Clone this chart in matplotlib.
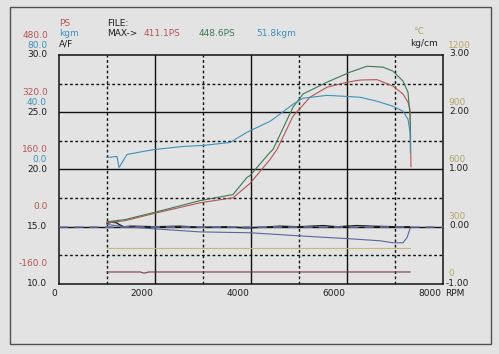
import matplotlib
matplotlib.use("Agg")
import matplotlib.pyplot as plt
import matplotlib.transforms as mtransforms
from matplotlib.patches import Rectangle

# ---------------- data ----------------
rpm_ps_red = [1000, 1375, 2042, 2938, 3625, 3979, 4396, 4542, 4875, 5229, 5583, 6000, 6271, 6625, 6958, 7167, 7271, 7313, 7333]
ps_red = [11, 17, 39, 67, 81, 121, 188, 216, 309, 362, 390, 404, 410, 411.1, 393, 371, 348, 328, 168]

rpm_ps_green = [1000, 1375, 2042, 2938, 3625, 3917, 3979, 4396, 4458, 4875, 5083, 5583, 6063, 6417, 6750, 6958, 7167, 7271, 7313, 7325]
ps_green = [14, 20, 42, 73, 90, 138, 143, 208, 216, 334, 371, 404, 432, 448.6, 446, 435, 407, 376, 309, 250]

rpm_torque = [1000, 1208, 1250, 1417, 1750, 2000, 2583, 3000, 3563, 3917, 4396, 4458, 4875, 5083, 5583, 5917, 6271, 6625, 6958, 7167, 7271, 7313, 7320]
torque_kgm = [8.4, 9.1, 1.4, 10.5, 12.6, 14.0, 16.1, 16.8, 18.9, 26.0, 33.7, 35.1, 45.6, 49.8, 51.8, 51.2, 50.5, 47.7, 44.2, 40.7, 35.1, 26.0, 12.0]

rpm_af = [1000, 1100, 1200, 1250, 1350, 1500, 2000, 2500, 3000, 3500, 3900, 4200, 4600, 5000, 5500, 5800, 6200, 6500, 7000, 7300]
af = [15.3, 15.4, 15.35, 15.2, 15.0, 15.05, 15.0, 15.05, 14.95, 15.0, 14.9, 14.95, 15.05, 15.0, 15.1, 15.0, 15.1, 15.05, 15.0, 15.0]

rpm_boost = [1000, 1375, 1958, 2938, 3979, 5021, 6063, 6688, 6958, 7167, 7250, 7313]
boost_kgcm = [0.04, 0.0, -0.035, -0.09, -0.105, -0.16, -0.21, -0.245, -0.28, -0.28, -0.19, -0.035]

rpm_temp = [1000, 7313]
temp_c = [190, 190]

rpm_temp2 = [1000, 1700, 1750, 1810, 1860, 7313]
temp2_c = [63, 63, 58, 58, 63, 63]

boost_ref = 0.0

x_ticks = [0, 2000, 4000, 6000, 8000]
af_ticks = [10.0, 15.0, 20.0, 25.0, 30.0]
ps_ticks = [-160.0, 0.0, 160.0, 320.0, 480.0]
kgm_ticks = [0.0, 40.0, 80.0]
kgcm_ticks = [-1.00, 0.00, 1.00, 2.00, 3.00]
temp_ticks = [0, 300, 600, 900, 1200]

# ---------------- styling ----------------
BG = '#e3e3e3'
C_RED = '#b55555'
C_GREEN = '#3d7a52'
C_BLUE = '#3d92b8'
C_BLACK = '#1e1e1e'
C_SLATE = '#56669a'
C_YEL = '#c9b877'
C_YEL_TXT = '#b3a56a'
C_DRED = '#7a3848'
C_DASH = '#6878a8'

W, H = 499, 354
fig = plt.figure(figsize=(W / 100, H / 100), dpi=100, facecolor=BG)

# outer frame
fig.patches.append(Rectangle((10 / W, 1 - 344 / H), 481 / W, 337 / H, transform=fig.transFigure,
                             fill=False, edgecolor='#505050', linewidth=1.0))

ax = fig.add_axes([59 / W, 1 - 284 / H, 384 / W, 229 / H])
ax.set_facecolor(BG)
ax.set_xlim(0, 8000)
ax.set_ylim(10, 30)
for s in ax.spines.values():
    s.set_color('#111111')
    s.set_linewidth(1.1)
ax.set_xticks([])
ax.set_yticks([])

dot = (0, (2.0, 1.8))
for v in [15, 20, 25]:
    ax.axhline(v, color='#111111', lw=1.0, zorder=1)
for v in [12.5, 17.5, 22.5, 27.5]:
    ax.axhline(v, color='#111111', lw=1.0, ls=dot, zorder=1)
for v in [2000, 4000, 6000]:
    ax.axvline(v, color='#111111', lw=1.0, zorder=1)
for v in [1000, 3000, 5000, 7000]:
    ax.axvline(v, color='#111111', lw=1.0, ls=dot, zorder=1)


def twin(lo, hi):
    t = ax.twinx()
    t.set_ylim(lo, hi)
    t.set_axis_off()
    return t


ax_ps = twin(-160, 480)
ax_kgm = twin(-80, 80)
ax_kgcm = twin(-1, 3)
ax_temp = twin(0, 1200)

lw = 0.8
ax_kgcm.axhline(boost_ref, color=C_DASH, lw=1.1, ls=(0, (6, 4)), zorder=2)
ax_temp.plot(rpm_temp, temp_c, color=C_YEL, lw=lw)
ax_temp.plot(rpm_temp2, temp2_c, color=C_DRED, lw=lw)
ax_kgcm.plot(rpm_boost, boost_kgcm, color=C_SLATE, lw=lw)
ax.plot(rpm_af, af, color=C_BLACK, lw=1.0, zorder=3)
ax_kgm.plot(rpm_torque, torque_kgm, color=C_BLUE, lw=lw)
ax_ps.plot(rpm_ps_red, ps_red, color=C_RED, lw=lw)
ax_ps.plot(rpm_ps_green, ps_green, color=C_GREEN, lw=lw)

FS = 6.5
font = dict(fontsize=FS, family='DejaVu Sans')


def axis_labels(axk, ticks, fmt, color, xpix, ha, dy_px):
    base = mtransforms.blended_transform_factory(fig.transFigure, axk.transData)
    tr = base + mtransforms.ScaledTranslation(0, dy_px / 100, fig.dpi_scale_trans)
    for v in ticks:
        axk.text(xpix / W, v, fmt.format(v), transform=tr, color=color, ha=ha, va='center',
                 clip_on=False, **font)


# left stack
axis_labels(ax, af_ticks, '{:.1f}', C_BLACK, 47, 'right', 0)
axis_labels(ax_kgm, kgm_ticks, '{:.1f}', C_BLUE, 47, 'right', 10)
axis_labels(ax_ps, ps_ticks, '{:.1f}', C_RED, 48, 'right', 20)
# right stack
axis_labels(ax_kgcm, kgcm_ticks, '{:.2f}', C_BLACK, 469, 'right', 1)
axis_labels(ax_temp, temp_ticks, '{:d}', C_YEL_TXT, 448, 'left', 10)

# x tick labels
trx = mtransforms.blended_transform_factory(ax.transData, fig.transFigure)
for v in x_ticks:
    ax.text(v, 1 - 293 / H, f'{v:d}', transform=trx + mtransforms.ScaledTranslation(-2 / 100, 0, fig.dpi_scale_trans),
            ha='right', va='center', color=C_BLACK, clip_on=False, **font)


def ftext(x, y, s, color, ha='left'):
    fig.text(x / W, 1 - y / H, s, color=color, ha=ha, va='center', **font)


ftext(445, 293, 'RPM', C_BLACK)
ftext(59, 24, 'PS', C_RED)
ftext(59, 34, 'kgm', C_BLUE)
ftext(59, 44, 'A/F', C_BLACK)
ftext(107, 24, 'FILE:', C_BLACK)
ftext(107, 34, 'MAX->', C_BLACK)
ftext(144, 34, f'{max(ps_red):.1f}PS', C_RED)
ftext(199, 34, f'{max(ps_green):.1f}PS', C_GREEN)
ftext(256, 34, f'{max(torque_kgm):.1f}kgm', C_BLUE)
ftext(413, 31, '\u2103', C_YEL_TXT)
ftext(410, 43, 'kg/cm', C_BLACK)

fig.savefig('out.png', dpi=100, facecolor=BG)
